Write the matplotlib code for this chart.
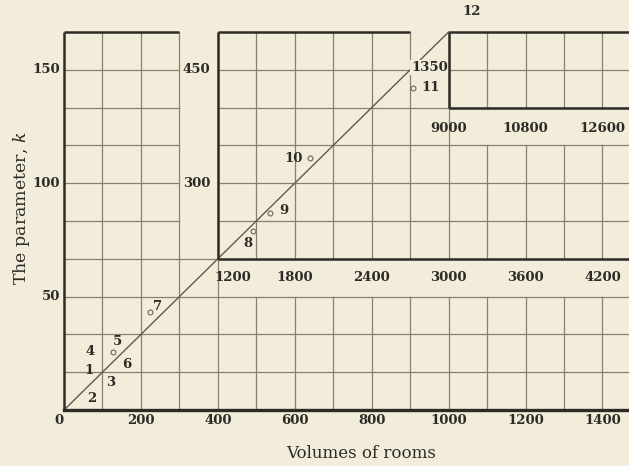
import matplotlib
import matplotlib.pyplot as plt

matplotlib.use('Agg')

# fitted line k = V/6 (main-scale coordinates)
line_v = [0, 1000]
line_k = [0, 166.67]

# main scale ticks
main_x_ticks = [0, 200, 400, 600, 800, 1000, 1200, 1400]
main_y_ticks = [50, 100, 150]
# first inset (x3)
inset1_x_ticks = [1200, 1800, 2400, 3000, 3600, 4200]
inset1_y_ticks = [300, 450]
# second inset (x9)
inset2_x_ticks = [9000, 10800, 12600]
inset2_y_ticks = [1350]

# observed rooms: volume, k, and the scale they are plotted on
room_ids = ['5', '7', '8', '9', '10', '11']
room_v = [127, 224, 1473, 1608, 1920, 8163]
room_k = [25.6, 43.2, 237, 261, 333, 1278]
room_scale = [1, 1, 3, 3, 3, 9]

# number labels (main-scale positions)
num_labels = ['1', '2', '3', '4', '5', '6', '7', '8', '9', '10', '11', '12']
num_xy = [(65, 17.6), (73, 4.9), (122, 12.3), (68, 25.6), (140, 30.0), (164, 20.0),
          (243, 45.5), (478, 73.5), (572, 88.0), (596, 111.0), (953, 142.0), (1061, 175.5)]

bg = '#f2ecda'
grid_c = '#858072'
dark = '#2e2b26'

XMAX = 1469
KS = 50 / 3
gutters = [(300, 400, 4 * KS, 10 * KS), (400, XMAX, 3 * KS, 4 * KS),
           (900, 1000, 8 * KS, 10 * KS), (1000, XMAX, 7 * KS, 8 * KS)]


def cut(a0, a1, holes):
    segs = [(a0, a1)]
    for h0, h1 in holes:
        new = []
        for s0, s1 in segs:
            if h1 <= s0 or h0 >= s1:
                new.append((s0, s1))
                continue
            if h0 > s0:
                new.append((s0, h0))
            if h1 < s1:
                new.append((h1, s1))
        segs = new
    return segs


fig = plt.figure(figsize=(6.29, 4.66), dpi=100, facecolor=bg)
ax = fig.add_axes([64 / 629, 56 / 466, 565 / 629, 378 / 466])
ax.set_facecolor(bg)
ax.set_xlim(0, XMAX)
ax.set_ylim(0, 10 * KS)
ax.axis('off')

# grid
for x in range(100, 1500, 100):
    holes = [(g[2], g[3]) for g in gutters if g[0] < x < g[1]]
    for s0, s1 in cut(0, 10 * KS, holes):
        ax.plot([x, x], [s0, s1], color=grid_c, lw=0.9, zorder=1)
for n in range(1, 10):
    y = n * KS
    holes = [(g[0], g[1]) for g in gutters if g[2] + 1e-6 < y < g[3] - 1e-6]
    for s0, s1 in cut(0, XMAX, holes):
        ax.plot([s0, s1], [y, y], color=grid_c, lw=0.9, zorder=1)

# heavy borders
border = dict(color=dark, lw=1.8, zorder=3, solid_capstyle='butt', clip_on=False)
ax.plot([0, 0], [0, 10 * KS], **border)
ax.plot([0, XMAX], [0, 0], lw=2.4, color=dark, zorder=3, clip_on=False)
ax.plot([0, 300], [10 * KS, 10 * KS], **border)
ax.plot([400, 400], [4 * KS, 10 * KS], **border)
ax.plot([400, XMAX], [4 * KS, 4 * KS], **border)
ax.plot([400, 900], [10 * KS, 10 * KS], **border)
ax.plot([1000, 1000], [8 * KS, 10 * KS], **border)
ax.plot([1000, XMAX], [8 * KS, 8 * KS], **border)
ax.plot([1000, XMAX], [10 * KS, 10 * KS], **border)

# line
ax.plot(line_v, line_k, color='#5f5a50', lw=1.0, zorder=2, clip_on=False)

# rooms
for v, k, s in zip(room_v, room_k, room_scale):
    ax.plot(v / s, k / s, 'o', ms=3.5, mfc=bg, mec='#6b665a', mew=0.8, zorder=4)

tick_font = dict(family='DejaVu Serif', fontweight='bold', fontsize=9.5, color=dark)
lbl_box = dict(boxstyle='square,pad=0.05', fc=bg, ec='none')

for v in main_x_ticks:
    ax.text(-14 if v == 0 else v, -4.5, str(v), ha='center', va='center', **tick_font)
for k in main_y_ticks:
    ax.text(-10, k, str(k), ha='right', va='center', **tick_font)
for v in inset1_x_ticks:
    xpos = v / 3
    ax.text(xpos + (40 if xpos == 400 else 0), 3.5 * KS, str(v), ha='center', va='center', **tick_font)
for k in inset1_y_ticks:
    ax.text(345, k / 3, str(k), ha='center', va='center', **tick_font)
for v in inset2_x_ticks:
    ax.text(v / 9, 7.5 * KS - 1, str(v), ha='center', va='center', **tick_font)
for k in inset2_y_ticks:
    ax.text(998, k / 9 + 1, str(k), ha='right', va='center', zorder=2.5, bbox=lbl_box, **tick_font)

for t, (x, y) in zip(num_labels, num_xy):
    ax.text(x, y, t, ha='center', va='center', clip_on=False, **tick_font)

plt.rcParams['mathtext.fontset'] = 'dejavuserif'
fig.text(361 / 629, 1 - 453 / 466, 'Volumes of rooms', ha='center', va='center',
         family='DejaVu Serif', fontsize=12, color=dark)
fig.text(22 / 629, 1 - 208 / 466, 'The parameter, $k$', ha='center', va='center',
         rotation=90, family='DejaVu Serif', fontsize=12.5, color=dark)

fig.savefig('out.png', dpi=100, facecolor=bg)
